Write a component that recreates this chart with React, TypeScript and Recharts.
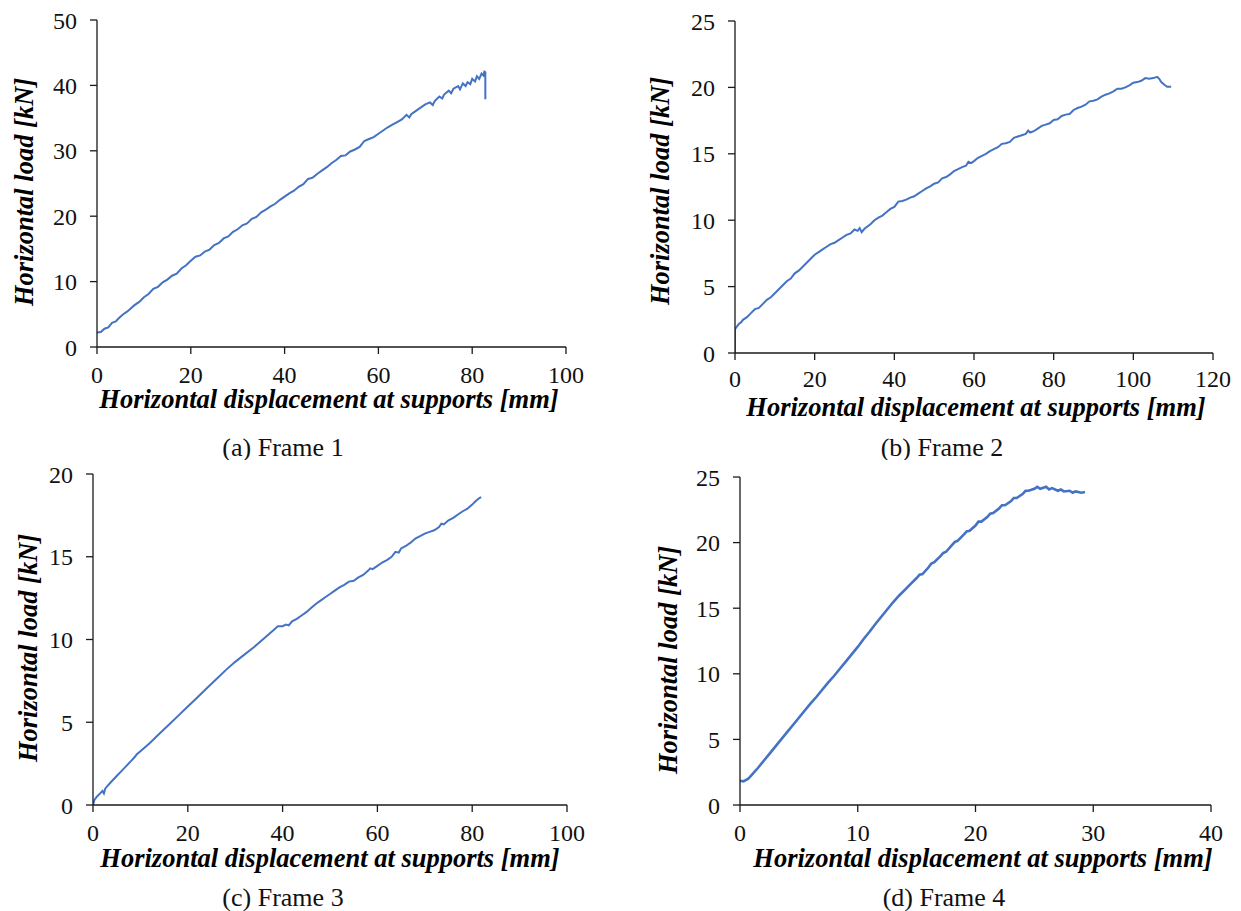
import { LineChart, Line, XAxis, YAxis, Label } from "recharts";

// ── measured load–displacement curves, [displacement mm, load kN] ──
const FRAME1: [number, number][] = [
  [0, 2.2], [0.8, 2.3], [1.6, 2.8], [2.4, 3.0], [3.2, 3.7], [4.0, 3.9], [4.8, 4.5],
  [5.6, 5.0], [6.4, 5.4], [7.2, 5.9], [8.0, 6.4], [9.0, 6.9], [10.0, 7.6], [11.0, 8.1],
  [12.0, 8.9], [13.0, 9.2], [14.0, 9.9], [15.0, 10.3], [16.0, 10.9], [17.0, 11.2],
  [18.0, 12.0], [19.0, 12.5], [20.0, 13.2], [21.0, 13.8], [22.0, 14.0], [23.0, 14.6],
  [24.0, 14.9], [25.0, 15.6], [26.0, 15.9], [27.0, 16.6], [28.0, 16.9], [29.0, 17.6],
  [30.0, 18.0], [31.0, 18.6], [32.0, 18.9], [33.0, 19.6], [34.0, 19.9], [35.0, 20.6],
  [36.0, 21.0], [37.0, 21.5], [38.0, 21.9], [39.0, 22.5], [40.0, 23.0], [41.0, 23.5],
  [42.0, 23.9], [43.0, 24.5], [44.0, 24.9], [45.0, 25.7], [46.0, 25.9], [47.0, 26.5],
  [48.0, 27.0], [49.0, 27.5], [50.0, 28.1], [51.0, 28.6], [52.0, 29.2], [53.0, 29.3],
  [54.0, 29.9], [55.0, 30.2], [56.0, 30.6], [57.0, 31.5], [58.0, 31.8], [59.0, 32.1],
  [60.0, 32.6], [61.0, 33.1], [62.0, 33.6], [63.0, 34.0], [64.0, 34.4], [65.0, 34.8],
  [66.0, 35.5], [66.6, 35.1], [67.0, 35.6], [68.0, 36.1], [69.0, 36.6], [70.0, 37.1],
  [71.0, 37.4], [71.6, 37.0], [72.0, 37.6], [73.0, 38.3], [73.6, 38.0], [74.0, 38.6],
  [75.0, 39.2], [75.5, 38.8], [76.0, 39.5], [77.0, 39.9], [77.4, 39.4], [78.0, 40.3],
  [78.6, 39.9], [79.0, 40.5], [79.6, 40.2], [80.0, 41.0], [80.6, 40.6], [81.0, 41.4],
  [81.5, 41.0], [82.0, 41.8], [82.4, 41.5], [82.6, 42.1], [82.8, 42.0], [82.8, 37.9],
];

const FRAME2: [number, number][] = [
  [0, 0], [0, 1.8], [0.5, 2.0], [1, 2.2], [1.5, 2.3], [2, 2.5], [3, 2.7], [4, 3.0],
  [5, 3.3], [6, 3.4], [7, 3.7], [8, 4.0], [9, 4.2], [10, 4.5], [11, 4.8], [12, 5.1],
  [13, 5.4], [14, 5.6], [15, 6.0], [16, 6.2], [17, 6.5], [18, 6.8], [19, 7.1], [20, 7.4],
  [21, 7.6], [22, 7.8], [23, 8.0], [24, 8.2], [25, 8.3], [26, 8.5], [27, 8.7], [28, 8.9],
  [29, 9.0], [30, 9.3], [30.8, 9.2], [31.3, 9.4], [31.8, 9.1], [32.5, 9.35], [34, 9.7],
  [35, 10.0], [36, 10.2], [37, 10.35], [38, 10.6], [39, 10.85], [40, 11.0], [41, 11.4],
  [42, 11.45], [43, 11.55], [44, 11.7], [45, 11.8], [46, 12.0], [47, 12.2], [48, 12.4],
  [49, 12.55], [50, 12.75], [51, 12.85], [52, 13.15], [53, 13.25], [54, 13.45],
  [55, 13.7], [56, 13.85], [57, 14.0], [58, 14.1], [58.6, 14.4], [59.3, 14.3],
  [60, 14.45], [61, 14.7], [62, 14.85], [63, 15.0], [64, 15.2], [65, 15.35], [66, 15.5],
  [67, 15.75], [68, 15.8], [69, 15.9], [70, 16.2], [71, 16.3], [72, 16.4], [73, 16.5],
  [73.6, 16.75], [74.1, 16.6], [75, 16.7], [76, 16.9], [77, 17.1], [78, 17.2], [79, 17.3],
  [80, 17.55], [81, 17.6], [82, 17.85], [83, 17.95], [84, 18.0], [85, 18.3], [86, 18.45],
  [87, 18.55], [88, 18.7], [89, 18.95], [90, 19.0], [91, 19.1], [92, 19.3], [93, 19.45],
  [94, 19.55], [95, 19.7], [96, 19.9], [97, 19.9], [98, 20.0], [99, 20.15], [100, 20.35],
  [101, 20.4], [102, 20.5], [103, 20.7], [104, 20.65], [105, 20.7], [106, 20.8],
  [106.5, 20.65], [107, 20.4], [107.8, 20.2], [108.5, 20.05], [109.5, 20.05],
];

const FRAME3: [number, number][] = [
  [0, 0], [0.3, 0.3], [0.8, 0.5], [1.5, 0.7], [2, 0.85], [2.3, 0.7], [2.6, 1.0], [4, 1.45],
  [5, 1.75], [6, 2.05], [7, 2.35], [8, 2.65], [8.8, 2.9], [9.2, 3.05], [10, 3.25],
  [12, 3.75], [14, 4.3], [16, 4.85], [18, 5.4], [20, 5.95], [22, 6.5], [24, 7.05],
  [26, 7.6], [28, 8.15], [30, 8.65], [32, 9.1], [34, 9.55], [36, 10.05], [38, 10.55],
  [39, 10.8], [40, 10.8], [40.7, 10.9], [41.3, 10.85], [42, 11.1], [43, 11.25],
  [44, 11.45], [45, 11.65], [46, 11.9], [47, 12.15], [48, 12.35], [49, 12.55], [50, 12.75],
  [51, 12.95], [52, 13.15], [53, 13.3], [54, 13.5], [55, 13.55], [56, 13.75], [57, 13.9],
  [58, 14.15], [58.5, 14.3], [59, 14.25], [60, 14.45], [61, 14.65], [62, 14.8], [63, 15.0],
  [63.8, 15.3], [64.5, 15.25], [65, 15.5], [66, 15.65], [67, 15.85], [68, 16.1],
  [69, 16.25], [70, 16.4], [71, 16.5], [72, 16.6], [73, 16.8], [73.5, 17.0], [74, 16.95],
  [75, 17.2], [76, 17.35], [77, 17.55], [78, 17.75], [79, 17.9], [80, 18.15],
  [80.7, 18.35], [81.5, 18.55], [81.9, 18.6],
];

const FRAME4: [number, number][] = [
  [0, 1.85], [0.3, 1.8], [0.7, 2.0], [1, 2.3], [1.5, 2.8], [2, 3.35], [2.5, 3.9], [3, 4.45],
  [3.5, 5.0], [4, 5.55], [4.5, 6.1], [5, 6.65], [5.5, 7.2], [6, 7.75], [6.5, 8.25],
  [7, 8.8], [7.5, 9.35], [8, 9.85], [8.5, 10.4], [9, 10.95], [9.5, 11.5], [10, 12.05],
  [10.5, 12.65], [11, 13.2], [11.5, 13.8], [12, 14.35], [12.5, 14.9], [13, 15.45],
  [13.5, 15.95], [14, 16.4], [14.5, 16.85], [15, 17.3], [15.25, 17.55], [15.5, 17.6],
  [16, 18.1], [16.25, 18.4], [16.5, 18.5], [17, 18.95], [17.25, 19.2], [17.5, 19.3],
  [18, 19.8], [18.25, 20.05], [18.5, 20.15], [19, 20.6], [19.25, 20.85], [19.5, 20.9],
  [20, 21.3], [20.25, 21.6], [20.5, 21.6], [21, 21.95], [21.25, 22.2], [21.5, 22.25],
  [22, 22.6], [22.25, 22.85], [22.5, 22.85], [23, 23.15], [23.25, 23.4], [23.5, 23.4],
  [24, 23.7], [24.25, 23.95], [24.5, 23.95], [25, 24.1], [25.25, 24.25], [25.5, 24.1],
  [26, 24.25], [26.25, 24.05], [26.5, 24.15], [27, 23.95], [27.25, 24.05], [27.5, 23.9],
  [28, 23.95], [28.25, 23.8], [28.5, 23.9], [29, 23.8], [29.3, 23.85],
];

const X_TICKS_100 = [0, 20, 40, 60, 80, 100];
const X_TICKS_120 = [0, 20, 40, 60, 80, 100, 120];
const X_TICKS_40 = [0, 10, 20, 30, 40];
const Y_TICKS_50 = [0, 10, 20, 30, 40, 50];
const Y_TICKS_25 = [0, 5, 10, 15, 20, 25];
const Y_TICKS_20 = [0, 5, 10, 15, 20];

const CAPTIONS = ["(a) Frame 1", "(b) Frame 2", "(c) Frame 3", "(d) Frame 4"];
const X_TITLE = "Horizontal displacement at supports [mm]";
const Y_TITLE = "Horizontal load [kN]";

const SERIF = "'Liberation Serif', 'Times New Roman', serif";
const BLUE = "#4472C4";
const AXIS = "#1a1a1a";

interface PanelProps {
  points: [number, number][];
  caption: string;
  xTicks: number[];
  yTicks: number[];
  left: number;
  top: number;
  width: number;
  height: number;
  margin: { top: number; right: number; bottom: number; left: number };
  yTitleAt: [number, number];
  xTitleAt: [number, number];
  captionAt: [number, number];
  xTickMargin: number;
  lineWidth: number;
}

function Panel(p: PanelProps) {
  const data = p.points.map(([x, y]) => ({ x, y }));
  const xMax = p.xTicks[p.xTicks.length - 1];
  const yMax = p.yTicks[p.yTicks.length - 1];
  const tick = { fontSize: 24, fill: "#111", fontFamily: SERIF };
  const titleStyle = { fontSize: 26.5, fontWeight: 700, fontStyle: "italic", fontFamily: SERIF, fill: "#000" } as const;

  return (
    <div style={{ position: "absolute", left: p.left, top: p.top }}>
      <LineChart width={p.width} height={p.height} data={data} margin={p.margin}>
        <XAxis
          dataKey="x"
          type="number"
          domain={[0, xMax]}
          ticks={p.xTicks}
          allowDataOverflow
          height={100}
          stroke={AXIS}
          strokeWidth={1.3}
          tick={tick}
          tickSize={7}
          tickMargin={p.xTickMargin}
          interval={0}
        >
          <Label
            content={() => (
              <g>
                <text x={p.xTitleAt[0]} y={p.xTitleAt[1]} textAnchor="middle" dominantBaseline="central" style={titleStyle}>
                  {X_TITLE}
                </text>
                <text
                  x={p.captionAt[0]}
                  y={p.captionAt[1]}
                  textAnchor="middle"
                  dominantBaseline="central"
                  style={{ fontSize: 26, fontFamily: SERIF, fill: "#111" }}
                >
                  {p.caption}
                </text>
              </g>
            )}
          />
        </XAxis>
        <XAxis xAxisId="top" orientation="top" type="number" domain={[0, xMax]} height={0} tick={false} tickLine={false} stroke={AXIS} strokeWidth={1.3} />
        <YAxis
          type="number"
          domain={[0, yMax]}
          ticks={p.yTicks}
          allowDataOverflow
          width={60}
          stroke={AXIS}
          strokeWidth={1.3}
          tick={tick}
          tickSize={7}
          tickMargin={13}
          interval={0}
        >
          <Label
            content={() => (
              <text
                x={p.yTitleAt[0]}
                y={p.yTitleAt[1]}
                textAnchor="middle"
                dominantBaseline="central"
                transform={`rotate(-90 ${p.yTitleAt[0]} ${p.yTitleAt[1]})`}
                style={titleStyle}
              >
                {Y_TITLE}
              </text>
            )}
          />
        </YAxis>
        <YAxis yAxisId="right" orientation="right" type="number" domain={[0, yMax]} width={0} tick={false} tickLine={false} stroke={AXIS} strokeWidth={1.3} />
        <Line
          type="linear"
          dataKey="y"
          stroke={BLUE}
          strokeWidth={p.lineWidth}
          dot={false}
          isAnimationActive={false}
        />
      </LineChart>
    </div>
  );
}

export default function App() {
  return (
    <div style={{ position: "absolute", left: 0, top: 0, width: 1241, height: 911, background: "#fff" }}>
      <Panel
        points={FRAME1}
        caption={CAPTIONS[0]}
        xTicks={X_TICKS_100}
        yTicks={Y_TICKS_50}
        left={0}
        top={0}
        width={620}
        height={460}
        margin={{ top: 20, right: 54, bottom: 13, left: 37 }}
        yTitleAt={[24, 192]}
        xTitleAt={[329, 399]}
        captionAt={[283, 447]}
        xTickMargin={12}
        lineWidth={2}
      />
      <Panel
        points={FRAME2}
        caption={CAPTIONS[1]}
        xTicks={X_TICKS_120}
        yTicks={Y_TICKS_25}
        left={620}
        top={0}
        width={621}
        height={460}
        margin={{ top: 21, right: 28, bottom: 7, left: 55 }}
        yTitleAt={[40, 191]}
        xTitleAt={[356, 407]}
        captionAt={[322, 447]}
        xTickMargin={10}
        lineWidth={2}
      />
      <Panel
        points={FRAME3}
        caption={CAPTIONS[2]}
        xTicks={X_TICKS_100}
        yTicks={Y_TICKS_20}
        left={0}
        top={460}
        width={620}
        height={451}
        margin={{ top: 14, right: 53, bottom: 6, left: 33 }}
        yTitleAt={[28, 188]}
        xTitleAt={[330, 398]}
        captionAt={[283, 437]}
        xTickMargin={12}
        lineWidth={2}
      />
      <Panel
        points={FRAME4}
        caption={CAPTIONS[3]}
        xTicks={X_TICKS_40}
        yTicks={Y_TICKS_25}
        left={620}
        top={460}
        width={621}
        height={451}
        margin={{ top: 17, right: 30, bottom: 6, left: 60 }}
        yTitleAt={[48, 200]}
        xTitleAt={[363, 398]}
        captionAt={[324, 437]}
        xTickMargin={12}
        lineWidth={2.6}
      />
    </div>
  );
}
